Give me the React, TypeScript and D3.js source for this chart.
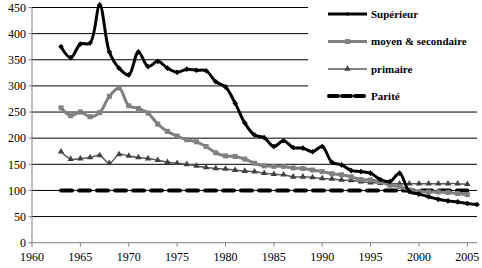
import React from "react";
import * as d3 from "d3";

const years = d3.range(1963, 2007);
const superieur = [375, 354, 380, 382, 455, 365, 334, 321, 365, 337, 347, 334, 326, 332, 330, 329, 308, 298, 267, 229, 206, 201, 184, 195, 182, 181, 174, 184, 154, 149, 138, 136, 133, 121, 117, 133, 98, 93, 88, 83, 80, 78, 75, 73];
const moyen = [258, 243, 250, 241, 249, 280, 296, 262, 257, 248, 227, 213, 204, 197, 193, 184, 172, 166, 165, 160, 152, 147, 146, 146, 143, 142, 139, 136, 132, 130, 126, 121, 120, 117, 110, 107, 101, 98, 97, 97, 96, 94, 92];
const primaire = [174, 160, 161, 163, 167, 152, 169, 166, 163, 161, 158, 154, 152, 150, 147, 144, 142, 141, 139, 137, 136, 133, 131, 130, 126, 126, 125, 123, 122, 120, 119, 117, 115, 114, 113, 113, 113, 113, 113, 113, 113, 113, 112];
const parite = years.slice(0, 43).map(() => 100);
const yTicks = [0, 50, 100, 150, 200, 250, 300, 350, 400, 450];
const xTicks = [1960, 1965, 1970, 1975, 1980, 1985, 1990, 1995, 2000, 2005];
const legendLabels = ["Supérieur", "moyen & secondaire", "primaire", "Parité"];

export default function App() {
  const W = 482, H = 268;
  const x = d3.scaleLinear().domain([1960, 2006]).range([32, 477]);
  const y = d3.scaleLinear().domain([0, 450]).range([242.7, 7.5]);
  const line = d3.line<[number, number]>().x(d => x(d[0])).y(d => y(d[1]));
  const smooth = d3.line<[number, number]>().x(d => x(d[0])).y(d => y(d[1])).curve(d3.curveCatmullRom.alpha(0.5));
  const pts = (vals: number[]) => vals.map((v, i) => [years[i], v] as [number, number]);
  const font = "'Liberation Serif', 'Times New Roman', serif";
  const tri = d3.symbol().type(d3.symbolTriangle).size(18)();
  const legY = [14, 41.5, 69, 96];
  return (
    <svg width={W} height={H} style={{ position: "absolute", left: 0, top: 0, background: "#fff" }}>
      {yTicks.slice(1).map(t => (
        <line key={t} x1={32} x2={477} y1={y(t)} y2={y(t)} stroke="#000" strokeWidth={1} />
      ))}
      <line x1={32} x2={32} y1={y(0)} y2={y(450)} stroke="#808080" strokeWidth={1} />
      <line x1={32} x2={477} y1={y(0)} y2={y(0)} stroke="#808080" strokeWidth={1} />
      {yTicks.map(t => (
        <g key={t}>
          <line x1={28.5} x2={32} y1={y(t)} y2={y(t)} stroke="#808080" />
          <text x={26} y={y(t)} dy="0.35em" textAnchor="end" fontFamily={font} fontSize={12} fill="#000">{t}</text>
        </g>
      ))}
      {xTicks.map(t => (
        <g key={t}>
          <line x1={x(t)} x2={x(t)} y1={y(0)} y2={y(0) + 4} stroke="#808080" />
          <text x={x(t)} y={257} dy="0.35em" textAnchor="middle" fontFamily={font} fontSize={12} fill="#000">{t}</text>
        </g>
      ))}
      <path d={line(pts(parite)) || ""} fill="none" stroke="#000" strokeWidth={4} strokeDasharray="11 7" strokeLinecap="round" />
      <path d={smooth(pts(primaire)) || ""} fill="none" stroke="#595959" strokeWidth={1.5} />
      {pts(primaire).map((p, i) => (
        <path key={i} d={tri || ""} transform={`translate(${x(p[0])},${y(p[1])})`} fill="#404040" />
      ))}
      <path d={smooth(pts(moyen)) || ""} fill="none" stroke="#808080" strokeWidth={3} />
      {pts(moyen).map((p, i) => (
        <rect key={i} x={x(p[0]) - 2.5} y={y(p[1]) - 2.5} width={5} height={5} fill="#808080" />
      ))}
      <path d={smooth(pts(superieur)) || ""} fill="none" stroke="#000" strokeWidth={3} strokeLinejoin="round" />
      {pts(superieur).map((p, i) => (
        <rect key={i} x={x(p[0]) - 2} y={y(p[1]) - 2} width={4} height={4} fill="#000" transform={`rotate(45,${x(p[0])},${y(p[1])})`} />
      ))}
      <rect x={308} y={0} width={174} height={106} fill="#fff" />
      {legendLabels.map((lab, i) => {
        const ly = legY[i];
        const mid = 347.5;
        return (
          <g key={lab}>
            {i === 0 && <>
              <line x1={328} x2={367} y1={ly} y2={ly} stroke="#000" strokeWidth={3} />
              <rect x={mid - 1.5} y={ly - 1.5} width={3} height={3} fill="#000" transform={`rotate(45,${mid},${ly})`} />
            </>}
            {i === 1 && <>
              <line x1={328} x2={367} y1={ly} y2={ly} stroke="#808080" strokeWidth={3} />
              <rect x={mid - 2.5} y={ly - 2.5} width={5} height={5} fill="#808080" />
            </>}
            {i === 2 && <>
              <line x1={328} x2={367} y1={ly} y2={ly} stroke="#595959" strokeWidth={1.5} />
              <path d={tri || ""} transform={`translate(${mid},${ly})`} fill="#404040" />
            </>}
            {i === 3 && <line x1={329} x2={366} y1={ly} y2={ly} stroke="#000" strokeWidth={4} strokeDasharray="9 4" strokeLinecap="round" />}
            <text x={371} y={ly} dy="0.35em" fontFamily={font} fontWeight="bold" fontSize={11} fill="#000">{lab}</text>
          </g>
        );
      })}
    </svg>
  );
}
